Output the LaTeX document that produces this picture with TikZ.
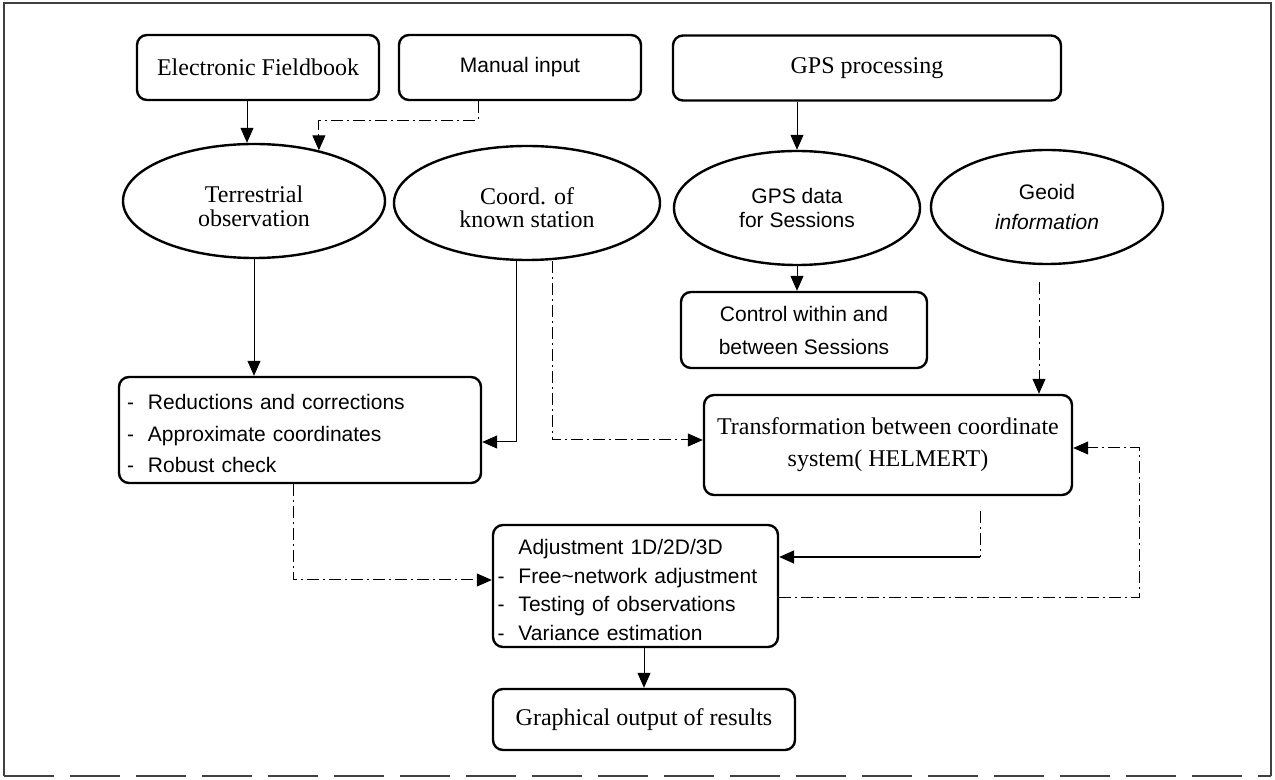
\documentclass[tikz,border=0pt]{standalone}
\usepackage{fontspec}
\setmainfont{Liberation Serif}
\setsansfont{Liberation Sans}
\usetikzlibrary{shapes.geometric,arrows.meta,calc}
\begin{document}
\begin{tikzpicture}[x=0.5pt,y=-0.5pt,
  box/.style={draw, line width=1.2pt, rounded corners=5pt, inner sep=0pt, align=center},
  oval/.style={draw, ellipse, line width=1.2pt, inner sep=0pt, align=center},
  serif/.style={font=\fontsize{12}{14}\selectfont\rmfamily},
  sans/.style={font=\fontsize{10.5}{12.6}\selectfont\sffamily},
  conn/.style={line width=0.5pt, -{Triangle[length=7.5pt,width=6.5pt]}},
  dd/.style={dash pattern=on 6pt off 2pt on 1pt off 2pt},
]
\useasboundingbox (0,0) rectangle (1275,780);
% frame
\draw[line width=1pt, black!75] (4,776) -- (4,3) -- (1271,3) -- (1271,776);
\draw[line width=1pt, black!75, dash pattern=on 25pt off 8pt] (4,776) -- (1271,776);

% nodes
\node[box,serif,minimum width=121pt,minimum height=32.5pt] (ef) at (258,67.5) {Electronic Fieldbook};
\node[box,sans,minimum width=121pt,minimum height=32.5pt] (man) at (520,67.5) {Manual input};
\node[box,serif,minimum width=194pt,minimum height=32.5pt] (gpsp) at (867,68) {GPS processing};

\node[oval,font=\fontsize{12}{11.8}\selectfont\rmfamily,minimum width=131pt,minimum height=57pt] (terr) at (254,201)
  {\raisebox{-4.5pt}[\height][\depth]{\begin{tabular}{@{}c@{}}Terrestrial\\observation\end{tabular}}};
\node[oval,font=\fontsize{12}{11.8}\selectfont\rmfamily,minimum width=133pt,minimum height=57pt] (coord) at (527,203)
  {\raisebox{-4pt}[\height][\depth]{\begin{tabular}{@{}c@{}}Coord. of\\known station\end{tabular}}};
\node[oval,font=\fontsize{10.5}{12}\selectfont\sffamily,minimum width=123pt,minimum height=57pt] (gpsd) at (797,208) {GPS data\\for Sessions};
\node[oval,font=\fontsize{10.5}{15}\selectfont\sffamily,minimum width=116pt,minimum height=57pt] (geoid) at (1047,207) {Geoid\\\textit{information}};

\node[box,font=\fontsize{10.5}{16.5}\selectfont\sffamily,minimum width=123pt,minimum height=38pt] (ctrl) at (804,330) {Control within and\\between Sessions};

\node[box,font=\fontsize{10.5}{15.8}\selectfont\sffamily,minimum width=181pt,minimum height=53pt,align=left,text width=173pt] (red) at (300,430)
  {\raisebox{-2.5pt}[\height][\depth]{\begin{tabular}{@{}l@{\hspace{7pt}}l@{}}-&Reductions and corrections\\-&Approximate coordinates\\-&Robust check\end{tabular}}};

\node[box,font=\fontsize{12}{16}\selectfont\rmfamily,minimum width=184pt,minimum height=50pt] (trans) at (888,445) {Transformation between coordinate\\system( HELMERT)};

\node[box,font=\fontsize{10.5}{14.25}\selectfont\sffamily,minimum width=142.5pt,minimum height=61pt,align=left,text width=138pt] (adj) at (635.5,586)
  {\raisebox{-3pt}[\height][\depth]{\begin{tabular}{@{}l@{\hspace{7pt}}l@{}}&Adjustment 1D/2D/3D\\-&Free\textasciitilde network adjustment\\-&Testing of observations\\-&Variance estimation\end{tabular}}};

\node[box,serif,minimum width=151pt,minimum height=30.5pt] (graph) at (644,719.5) {Graphical output of results};

% connectors
\coordinate (e1) at ([xshift=-5.5pt]ef.south);
\draw[conn] (e1) -- (e1 |- terr.north);
\coordinate (m1) at ([xshift=-21pt]man.south);
\draw[conn,dd] (m1) -- ++(0,19) -| (terr.38);
\draw[conn] (gpsd.north |- gpsp.south) -- (gpsd.north);
\draw[conn] (gpsd.south) -- (gpsd.south |- ctrl.north);
\draw[conn] (terr.south) -- (terr.south |- red.north);
\coordinate (c1) at ([xshift=-5.5pt]coord.south);
\draw[conn] (c1) |- ([yshift=-6pt]red.east);
\coordinate (c2) at ([xshift=12.5pt]coord.south);
\draw[conn,dd] (c2) |- ([yshift=2.5pt]trans.west);
\coordinate (g1) at ([xshift=-4pt]geoid.south);
\draw[conn,dd,shorten <=8.5pt] (g1) -- (g1 |- trans.north);
\coordinate (r1) at ([xshift=-3.5pt]red.south);
\draw[conn,dd] (r1) |- ([yshift=3pt]adj.west);
\coordinate (t1) at ([xshift=46pt]trans.south);
\coordinate (a1) at ([yshift=14.5pt]adj.east);
\draw[line width=0.5pt,dd,shorten <=7.5pt] (t1) -- (t1 |- a1);
\draw[conn,line width=0.8pt] (t1 |- a1) -- (a1);
\coordinate (a2) at ([yshift=-5.5pt]adj.east);
\draw[conn,dd] (a2) -- ++(360,0) |- ([yshift=-1.5pt]trans.east);
\draw[conn] (graph.north |- adj.south) -- (graph.north);
\end{tikzpicture}
\end{document}
